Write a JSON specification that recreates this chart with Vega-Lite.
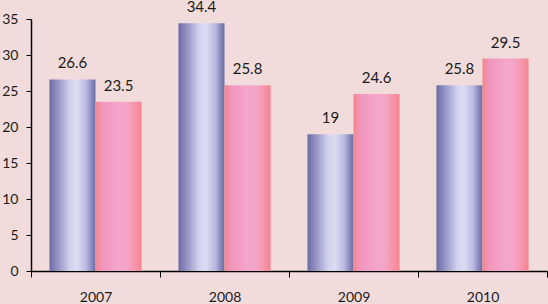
{
  "$schema": "https://vega.github.io/schema/vega-lite/v6.json",
  "width": 516,
  "height": 252,
  "autosize": {"type": "none"},
  "padding": {"left": 31, "top": 19, "right": 1, "bottom": 33},
  "background": "#f2dcdb",
  "config": {
    "view": {"stroke": null},
    "font": "Lato",
    "axis": {
      "domainColor": "#000000",
      "tickColor": "#000000",
      "labelColor": "#1a1a1a",
      "labelFont": "Lato",
      "labelFontSize": 14,
      "grid": false,
      "title": null
    }
  },
  "data": {
    "values": [
      {"year": "2007", "series": "A", "value": 26.6},
      {"year": "2007", "series": "B", "value": 23.5},
      {"year": "2008", "series": "A", "value": 34.4},
      {"year": "2008", "series": "B", "value": 25.8},
      {"year": "2009", "series": "A", "value": 19},
      {"year": "2009", "series": "B", "value": 24.6},
      {"year": "2010", "series": "A", "value": 25.8},
      {"year": "2010", "series": "B", "value": 29.5}
    ]
  },
  "encoding": {
    "x": {
      "field": "year",
      "type": "nominal",
      "scale": {"paddingInner": 0, "paddingOuter": 0},
      "axis": {"tickBand": "extent", "tickSize": 6, "labelPadding": 13, "labelAngle": 0, "domainWidth": 1.5}
    },
    "xOffset": {"field": "series", "type": "nominal", "scale": {"paddingInner": 0, "paddingOuter": 0.4}},
    "y": {
      "field": "value",
      "type": "quantitative",
      "scale": {"domain": [0, 35], "nice": false},
      "axis": {"values": [0, 5, 10, 15, 20, 25, 30, 35], "tickSize": 5, "labelPadding": 8, "domainWidth": 1.5}
    }
  },
  "layer": [
    {
      "transform": [{"filter": "datum.series == 'A'"}],
      "mark": {
        "type": "bar",
        "color": {
          "gradient": "linear",
          "x1": 0, "y1": 0, "x2": 1, "y2": 0,
          "stops": [
            {"offset": 0, "color": "#6c6ca4"},
            {"offset": 0.15, "color": "#8c8cc0"},
            {"offset": 0.45, "color": "#d2d2ee"},
            {"offset": 0.6, "color": "#dcdcf2"},
            {"offset": 0.8, "color": "#b8b8e0"},
            {"offset": 0.93, "color": "#8484b8"},
            {"offset": 1, "color": "#6c6ca4"}
          ]
        }
      }
    },
    {
      "transform": [{"filter": "datum.series == 'B'"}],
      "mark": {
        "type": "bar",
        "color": {
          "gradient": "linear",
          "x1": 0, "y1": 0, "x2": 1, "y2": 0,
          "stops": [
            {"offset": 0, "color": "#f4868e"},
            {"offset": 0.15, "color": "#f296bc"},
            {"offset": 0.5, "color": "#f4a6cc"},
            {"offset": 0.7, "color": "#f4a4c4"},
            {"offset": 0.9, "color": "#f590a4"},
            {"offset": 1, "color": "#f5848c"}
          ]
        }
      }
    },
    {
      "mark": {"type": "text", "baseline": "middle", "dy": -16, "fontSize": 15, "color": "#1a1a1a", "font": "Lato"},
      "encoding": {"text": {"field": "value", "type": "quantitative"}}
    }
  ]
}
